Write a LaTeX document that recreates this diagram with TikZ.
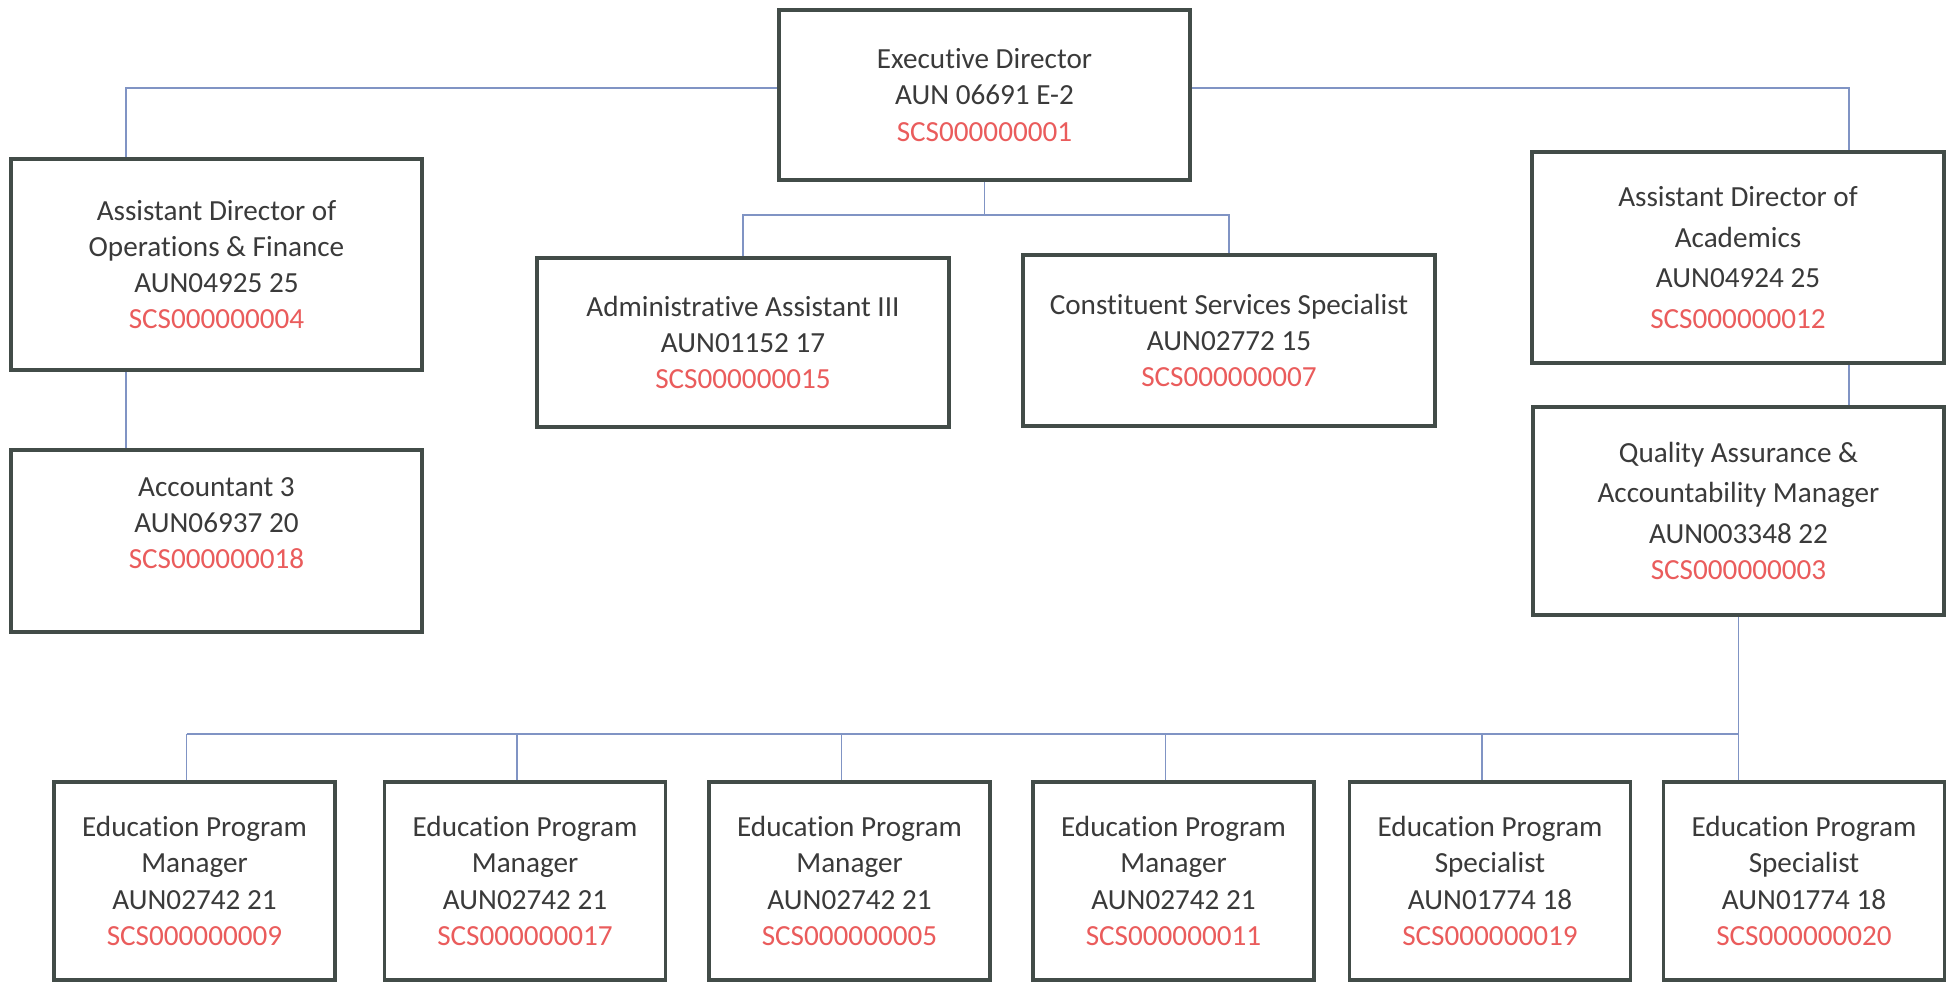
\documentclass[tikz,border=0pt]{standalone}
\usepackage{fontspec}
\setmainfont{Carlito}[Ligatures=NoCommon]
\usepackage{tikz}
\usetikzlibrary{positioning, calc}
\usepackage{xcolor}
\definecolor{boxgray}{RGB}{66, 76, 72}
\definecolor{textgray}{RGB}{58, 58, 58}
\definecolor{codered}{RGB}{234, 92, 92}
\definecolor{linkblue}{RGB}{128, 148, 196}
\newcommand{\poscode}[1]{\textcolor{codered}{#1}}

\begin{document}
\begin{tikzpicture}[
    posbox/.style={draw=boxgray, line width=1.1pt, fill=white, align=center,
      inner sep=0pt, minimum width=4.11cm, text=textgray,
      font=\fontsize{8.3}{10.3}\selectfont},
    smallbox/.style={posbox, minimum width=2.81cm, minimum height=1.98cm},
    link/.style={draw=linkblue, line width=0.45pt}
  ]
  \useasboundingbox (0,0) rectangle (19.51,-9.82);

  % top level
  \node[posbox, minimum height=1.70cm] (exec) at (9.845,-0.95)
    {Executive Director\\AUN 06691 E-2\\\poscode{SCS000000001}};

  % operations & finance
  \node[posbox, minimum height=2.11cm] (adof) at (2.165,-2.645)
    {Assistant Director of\\Operations \& Finance\\AUN04925 25\\\poscode{SCS000000004}};
  \node[posbox, minimum height=1.82cm] (acct) at (2.165,-5.41)
    {Accountant 3\\AUN06937 20\\\poscode{SCS000000018}\\~};

  % office staff
  \node[posbox, minimum width=4.12cm, minimum height=1.69cm] (admin) at (7.43,-3.425)
    {Administrative Assistant III\\AUN01152 17\\\poscode{SCS000000015}};
  \node[posbox, minimum width=4.12cm, minimum height=1.71cm] (const) at (12.29,-3.405)
    {Constituent Services Specialist\\AUN02772 15\\\poscode{SCS000000007}};

  % academics
  \node[posbox, minimum width=4.12cm, minimum height=2.11cm] (ada) at (17.38,-2.575)
    {Assistant Director of\\[1.3pt]Academics\\[1.3pt]AUN04924 25\\[1.3pt]\poscode{SCS000000012}};
  \node[posbox, minimum height=2.08cm] (qa) at (17.385,-5.11)
    {Quality Assurance \&\\[1.2pt]Accountability Manager\\[1.2pt]AUN003348 22\\\poscode{SCS000000003}};

  \foreach \x/\i/\ttl/\aun/\code in {
      1.945/1/Manager/AUN02742 21/SCS000000009,
      5.25/2/Manager/AUN02742 21/SCS000000017,
      8.495/3/Manager/AUN02742 21/SCS000000005,
      11.735/4/Manager/AUN02742 21/SCS000000011,
      14.90/5/Specialist/AUN01774 18/SCS000000019,
      18.04/6/Specialist/AUN01774 18/SCS000000020}
    \node[smallbox] (ep\i) at (\x,-8.81)
      {Education Program\\\ttl\\\aun\\\poscode{\code}};

  % connectors
  \coordinate (lefttap) at (1.26,-0.88);
  \coordinate (righttap) at (18.49,-0.88);
  \coordinate (bar1) at (0,-2.15);
  \coordinate (bar2) at (0,-7.34);

  \draw[link] (exec.west |- lefttap) -| (adof.north -| lefttap);
  \draw[link] (exec.east |- righttap) -| (ada.north -| righttap);
  \draw[link] (adof.south -| lefttap) -- (acct.north -| lefttap);
  \draw[link] (ada.south -| righttap) -- (qa.north -| righttap);

  \draw[link] (exec.south) -- (exec.south |- bar1);
  \draw[link] (admin.north) |- (bar1 -| const.north) -- (const.north);

  \draw[link] (qa.south) -- (ep6.north -| qa.south);
  \draw[link] ([xshift=-0.8mm]ep1.north |- bar2) -- (qa.south |- bar2);
  \foreach \i in {1,...,5}
    \draw[link] ([xshift=-0.8mm]ep\i.north) -- ([xshift=-0.8mm]ep\i.north |- bar2);
\end{tikzpicture}
\end{document}
